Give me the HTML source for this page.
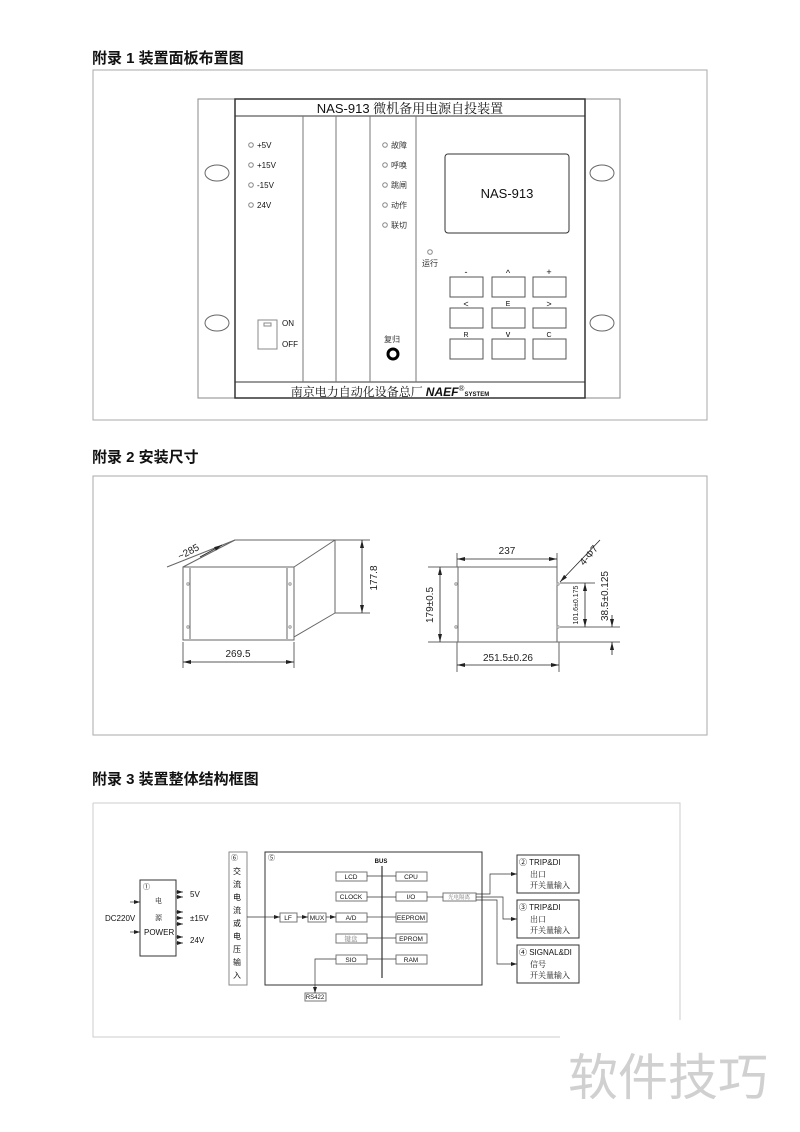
<!DOCTYPE html>
<html><head><meta charset="utf-8"><style>
body{margin:0;background:#fff}
svg{display:block}
text{font-family:"Liberation Sans","Noto Sans CJK SC",sans-serif}
.s{font-family:"Liberation Serif","Noto Serif CJK SC",serif}
</style></head><body>
<svg width="800" height="1132" viewBox="0 0 800 1132" xmlns="http://www.w3.org/2000/svg">
<defs>
<marker id="a" markerWidth="6" markerHeight="4" refX="6" refY="2" orient="auto" markerUnits="userSpaceOnUse"><path d="M0,0L6,2L0,4z" fill="#222"/></marker>
<marker id="b" markerWidth="8" markerHeight="4" refX="8" refY="2" orient="auto-start-reverse" markerUnits="userSpaceOnUse"><path d="M0,0L8,2L0,4z" fill="#222"/></marker>
</defs>
<g fill="none" stroke="#333">
<rect x="93" y="70" width="614" height="350" stroke="#aaa"/>
<rect x="198" y="99" width="422" height="299" stroke="#888"/>
<rect x="235" y="99" width="350" height="299" stroke-width="1.5"/>
<line x1="235" y1="116" x2="585" y2="116"/>
<line x1="235" y1="382" x2="585" y2="382"/>
<line x1="303" y1="116" x2="303" y2="382" stroke="#777"/>
<line x1="336" y1="116" x2="336" y2="382" stroke="#777"/>
<line x1="370" y1="116" x2="370" y2="382" stroke="#777"/>
<line x1="416" y1="116" x2="416" y2="382" stroke="#777"/>
<ellipse cx="217" cy="173" rx="12" ry="8" stroke="#666"/>
<ellipse cx="217" cy="323" rx="12" ry="8" stroke="#666"/>
<ellipse cx="602" cy="173" rx="12" ry="8" stroke="#666"/>
<ellipse cx="602" cy="323" rx="12" ry="8" stroke="#666"/>
<rect x="445" y="154" width="124" height="79" rx="3"/>
<g stroke="#555">
<rect x="450" y="277" width="33" height="20"/><rect x="492" y="277" width="33" height="20"/><rect x="533" y="277" width="33" height="20"/>
<rect x="450" y="308" width="33" height="20"/><rect x="492" y="308" width="33" height="20"/><rect x="533" y="308" width="33" height="20"/>
<rect x="450" y="339" width="33" height="20"/><rect x="492" y="339" width="33" height="20"/><rect x="533" y="339" width="33" height="20"/>
</g>
<rect x="258" y="320" width="19" height="29" stroke="#888"/>
<rect x="264" y="323" width="7" height="3" stroke="#888"/>
<circle cx="393" cy="354" r="5" stroke="#000" stroke-width="3"/>
<g stroke="#888">
<circle cx="251" cy="145" r="2.3"/><circle cx="251" cy="165" r="2.3"/><circle cx="251" cy="185" r="2.3"/><circle cx="251" cy="205" r="2.3"/>
<circle cx="385" cy="145" r="2.3"/><circle cx="385" cy="165" r="2.3"/><circle cx="385" cy="185" r="2.3"/><circle cx="385" cy="205" r="2.3"/><circle cx="385" cy="225" r="2.3"/>
<circle cx="430" cy="252" r="2.3"/>
</g>
<rect x="93" y="476" width="614" height="259" stroke="#aaa"/>
<g stroke="#666">
<rect x="183" y="567" width="111" height="73"/>
<line x1="190" y1="568" x2="190" y2="639"/><line x1="287" y1="568" x2="287" y2="639"/>
<line x1="183" y1="567" x2="235" y2="540"/><line x1="235" y1="540" x2="335" y2="540"/>
<line x1="294" y1="567" x2="335" y2="540"/><line x1="335" y1="540" x2="335" y2="613"/>
<line x1="294" y1="637" x2="335" y2="613"/>
<line x1="335" y1="540" x2="370" y2="540"/><line x1="335" y1="613" x2="370" y2="613"/>
<line x1="183" y1="642" x2="183" y2="668"/><line x1="294" y1="642" x2="294" y2="668"/>
<line x1="167" y1="567" x2="235" y2="540"/>
<rect x="458" y="567" width="99" height="75"/>
<line x1="457" y1="553" x2="457" y2="567"/><line x1="557" y1="553" x2="557" y2="567"/>
<line x1="428" y1="567" x2="458" y2="567"/><line x1="428" y1="642" x2="458" y2="642"/>
<line x1="457" y1="642" x2="457" y2="672"/><line x1="559" y1="642" x2="559" y2="672"/>
<line x1="560" y1="583" x2="595" y2="583"/><line x1="560" y1="627" x2="620" y2="627"/>
<line x1="557" y1="642" x2="620" y2="642"/>
</g>
<g stroke="#222" stroke-width="0.8">
<line x1="362" y1="540" x2="362" y2="613" marker-start="url(#b)" marker-end="url(#b)"/>
<line x1="183" y1="662" x2="294" y2="662" marker-start="url(#b)" marker-end="url(#b)"/>
<line x1="457" y1="559" x2="557" y2="559" marker-start="url(#b)" marker-end="url(#b)"/>
<line x1="440" y1="567" x2="440" y2="642" marker-start="url(#b)" marker-end="url(#b)"/>
<line x1="457" y1="665" x2="559" y2="665" marker-start="url(#b)" marker-end="url(#b)"/>
<line x1="585" y1="583" x2="585" y2="627" marker-start="url(#b)" marker-end="url(#b)"/>
<line x1="612" y1="615" x2="612" y2="627" marker-end="url(#b)"/>
<line x1="612" y1="655" x2="612" y2="642" marker-end="url(#b)"/>
<line x1="600" y1="540" x2="560" y2="582" marker-end="url(#b)"/>
<line x1="200" y1="557" x2="222" y2="545" marker-end="url(#b)"/>
</g>
<g stroke="#999"><circle cx="188" cy="584" r="1.2"/><circle cx="188" cy="627" r="1.2"/><circle cx="290" cy="584" r="1.2"/><circle cx="290" cy="627" r="1.2"/>
<circle cx="456" cy="584" r="1.2"/><circle cx="456" cy="627" r="1.2"/><circle cx="558" cy="584" r="1.2"/><circle cx="558" cy="627" r="1.2"/></g>
<path d="M93 803H680V1020" stroke="#ccc"/>
<path d="M93 803V1037H560" stroke="#ccc"/>
<rect x="140" y="880" width="36" height="76"/>
<rect x="229" y="852" width="18" height="133" stroke="#888"/>
<rect x="265" y="852" width="217" height="133"/>
<rect x="517" y="855" width="62" height="38"/>
<rect x="517" y="900" width="62" height="38"/>
<rect x="517" y="945" width="62" height="38"/>
<line x1="382" y1="866" x2="382" y2="978" stroke-width="1.2"/>
<g stroke="#777">
<rect x="336" y="872" width="31" height="9"/><rect x="396" y="872" width="31" height="9"/>
<rect x="336" y="892" width="31" height="9"/><rect x="396" y="892" width="31" height="9"/>
<rect x="336" y="913" width="31" height="9"/><rect x="396" y="913" width="31" height="9"/>
<rect x="336" y="934" width="31" height="9"/><rect x="396" y="934" width="31" height="9"/>
<rect x="336" y="955" width="31" height="9"/><rect x="396" y="955" width="31" height="9"/>
<rect x="280" y="913" width="17" height="9"/><rect x="308" y="913" width="18" height="9"/>
<rect x="443" y="893" width="33" height="8"/>
<rect x="305" y="993" width="21" height="8"/>
</g>
<g stroke="#333" stroke-width="0.7">
<line x1="130" y1="902" x2="140" y2="902" marker-end="url(#a)"/><line x1="130" y1="932" x2="140" y2="932" marker-end="url(#a)"/>
<line x1="176" y1="892" x2="183" y2="892" marker-end="url(#a)"/><line x1="176" y1="897" x2="183" y2="897" marker-end="url(#a)"/>
<line x1="176" y1="912" x2="183" y2="912" marker-end="url(#a)"/><line x1="176" y1="918" x2="183" y2="918" marker-end="url(#a)"/><line x1="176" y1="924" x2="183" y2="924" marker-end="url(#a)"/>
<line x1="176" y1="937" x2="183" y2="937" marker-end="url(#a)"/><line x1="176" y1="943" x2="183" y2="943" marker-end="url(#a)"/>
<line x1="247" y1="917" x2="265" y2="917"/><line x1="265" y1="917" x2="280" y2="917" marker-end="url(#a)"/>
<line x1="297" y1="917" x2="308" y2="917" marker-end="url(#a)"/><line x1="326" y1="917" x2="336" y2="917" marker-end="url(#a)"/>
<line x1="367" y1="917" x2="382" y2="917"/>
<line x1="367" y1="876" x2="396" y2="876"/><line x1="367" y1="897" x2="396" y2="897"/><line x1="382" y1="917" x2="396" y2="917"/><line x1="367" y1="938" x2="396" y2="938"/><line x1="367" y1="959" x2="396" y2="959"/>
<line x1="427" y1="897" x2="443" y2="897"/>
<path d="M476 894H490V874H517" marker-end="url(#a)"/>
<path d="M476 897H503V919H517" marker-end="url(#a)"/>
<path d="M476 900H497V964H517" marker-end="url(#a)"/>
<path d="M336 959H315V993" marker-end="url(#a)"/>
</g>
</g>
<g fill="#111">
<text x="92" y="63" font-size="15" font-weight="bold">附录 1  装置面板布置图</text>
<text x="92" y="462" font-size="15" font-weight="bold">附录 2  安装尺寸</text>
<text x="92" y="784" font-size="15" font-weight="bold">附录 3  装置整体结构框图</text>
<text x="410" y="113" font-size="13" text-anchor="middle">NAS-913 <tspan class="s">微机备用电源自投装置</tspan></text>
<text x="390" y="396" font-size="12" text-anchor="middle" class="s">南京电力自动化设备总厂 <tspan font-style="italic" font-weight="bold" font-family="Liberation Sans">NAEF</tspan><tspan font-size="8" dy="-5">®</tspan><tspan font-size="6" dy="5" font-family="Liberation Sans" font-weight="bold">SYSTEM</tspan></text>
<g font-size="8"><text x="257" y="148">+5V</text><text x="257" y="168">+15V</text><text x="257" y="188">-15V</text><text x="257" y="208">24V</text>
<text x="282" y="326">ON</text><text x="282" y="347">OFF</text></g>
<g font-size="8" class="s" fill="#333"><text x="391" y="148">故障</text><text x="391" y="168">呼唤</text><text x="391" y="188">跳闸</text><text x="391" y="208">动作</text><text x="391" y="228">联切</text>
<text x="422" y="266">运行</text><text x="384" y="342">复归</text></g>
<text x="507" y="198" font-size="13" text-anchor="middle">NAS-913</text>
<g font-size="9" text-anchor="middle"><text x="466" y="275">-</text><text x="508" y="276">^</text><text x="549" y="275">+</text>
<text x="466" y="307">&lt;</text><text x="508" y="306" font-size="7">E</text><text x="549" y="307">&gt;</text>
<text x="466" y="337" font-size="7">R</text><text x="508" y="337">v</text><text x="549" y="337" font-size="7">C</text></g>
<g font-size="10" fill="#222">
<text x="180" y="560" transform="rotate(-28 180 560)">~285</text>
<text x="377" y="578" transform="rotate(-90 377 578)" text-anchor="middle">177.8</text>
<text x="238" y="657" text-anchor="middle">269.5</text>
<text x="507" y="554" text-anchor="middle">237</text>
<text x="584" y="566" transform="rotate(-50 584 566)">4-Φ7</text>
<text x="433" y="605" transform="rotate(-90 433 605)" text-anchor="middle">179±0.5</text>
<text x="508" y="661" text-anchor="middle">251.5±0.26</text>
<text x="608" y="596" transform="rotate(-90 608 596)" text-anchor="middle">38.5±0.125</text>
<text x="578" y="605" transform="rotate(-90 578 605)" text-anchor="middle" font-size="7">101.6±0.175</text>
</g>
<g font-size="7">
<text x="143" y="889">①</text><text x="155" y="903" class="s">电</text><text x="155" y="920" class="s">源</text><text x="144" y="935" font-size="8">POWER</text>
<text x="105" y="921" font-size="8">DC220V</text>
<text x="190" y="897" font-size="8">5V</text><text x="190" y="921" font-size="8">±15V</text><text x="190" y="943" font-size="8">24V</text>
<text x="231" y="860">⑥</text>
<g class="s" font-size="8"><text x="233" y="874">交</text><text x="233" y="887">流</text><text x="233" y="900">电</text><text x="233" y="913">流</text><text x="233" y="926">或</text><text x="233" y="939">电</text><text x="233" y="952">压</text><text x="233" y="965">输</text><text x="233" y="978">入</text></g>
<text x="268" y="860">⑤</text>
<text x="381" y="863" text-anchor="middle" font-weight="bold" font-size="6">BUS</text>
<g text-anchor="middle" font-size="6.5"><text x="351" y="879">LCD</text><text x="411" y="879">CPU</text><text x="351" y="899">CLOCK</text><text x="411" y="899">I/O</text>
<text x="351" y="920">A/D</text><text x="411" y="920">EEPROM</text><text x="351" y="941" fill="#777" class="s">键盘</text><text x="411" y="941">EPROM</text>
<text x="351" y="962">SIO</text><text x="411" y="962">RAM</text><text x="288" y="920">LF</text><text x="317" y="920">MUX</text>
<text x="459" y="899" font-size="5.5" class="s" fill="#777">光电隔离</text><text x="315" y="999" font-size="6">RS422</text></g>
<g font-size="8"><text x="519" y="865">② TRIP&amp;DI</text><text x="530" y="877" class="s">出口</text><text x="530" y="888" class="s">开关量输入</text>
<text x="519" y="910">③ TRIP&amp;DI</text><text x="530" y="922" class="s">出口</text><text x="530" y="933" class="s">开关量输入</text>
<text x="519" y="955">④ SIGNAL&amp;DI</text><text x="530" y="967" class="s">信号</text><text x="530" y="978" class="s">开关量输入</text></g>
</g>
<text x="568" y="1095" font-size="50" fill="#d0d0d0">软件技巧</text>
</g>
</svg>
</body></html>
